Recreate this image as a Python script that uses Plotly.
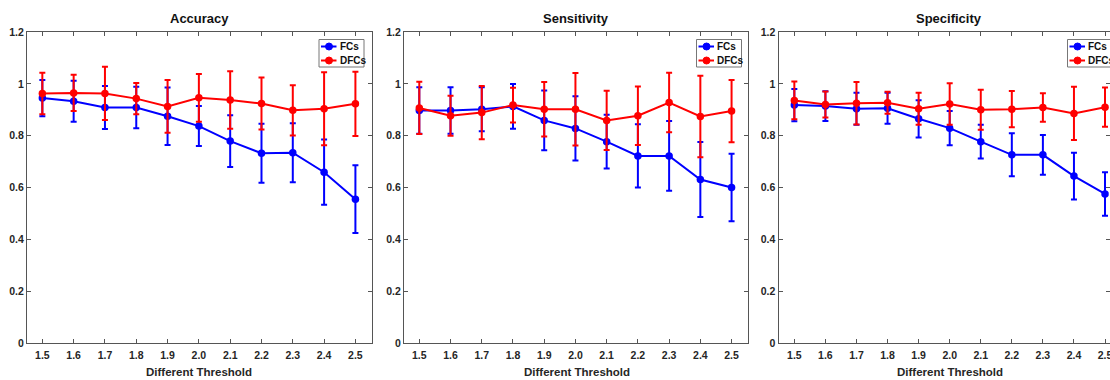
import plotly.graph_objects as go

# ---------------- data ----------------
thresholds = [1.5, 1.6, 1.7, 1.8, 1.9, 2.0, 2.1, 2.2, 2.3, 2.4, 2.5]
x_tick_labels = ["1.5", "1.6", "1.7", "1.8", "1.9", "2.0", "2.1", "2.2", "2.3", "2.4", "2.5"]
y_tick_vals = [0, 0.2, 0.4, 0.6, 0.8, 1.0, 1.2]
y_tick_labels = ["0", "0.2", "0.4", "0.6", "0.8", "1", "1.2"]
panel_titles = ["Accuracy", "Sensitivity", "Specificity"]
series_names = ["FCs", "DFCs"]

acc_fc = [0.945, 0.933, 0.909, 0.909, 0.875, 0.837, 0.779, 0.732, 0.734, 0.659, 0.555]
acc_fc_err = [0.070, 0.079, 0.083, 0.080, 0.111, 0.077, 0.100, 0.114, 0.114, 0.126, 0.131]
acc_dfc = [0.963, 0.965, 0.963, 0.943, 0.913, 0.946, 0.938, 0.924, 0.898, 0.904, 0.923]
acc_dfc_err = [0.080, 0.070, 0.103, 0.060, 0.102, 0.092, 0.111, 0.100, 0.097, 0.141, 0.124]

sen_fc = [0.897, 0.897, 0.902, 0.913, 0.859, 0.828, 0.777, 0.722, 0.722, 0.631, 0.600]
sen_fc_err = [0.090, 0.090, 0.085, 0.086, 0.115, 0.124, 0.104, 0.122, 0.135, 0.145, 0.130]
sen_dfc = [0.907, 0.877, 0.889, 0.918, 0.902, 0.902, 0.859, 0.877, 0.928, 0.874, 0.895]
sen_dfc_err = [0.101, 0.077, 0.103, 0.067, 0.105, 0.140, 0.114, 0.113, 0.115, 0.157, 0.120]

spe_fc = [0.918, 0.914, 0.904, 0.906, 0.865, 0.829, 0.777, 0.726, 0.726, 0.644, 0.575]
spe_fc_err = [0.062, 0.057, 0.062, 0.060, 0.072, 0.066, 0.065, 0.083, 0.077, 0.090, 0.084]
spe_dfc = [0.936, 0.920, 0.925, 0.927, 0.904, 0.922, 0.900, 0.902, 0.909, 0.886, 0.910]
spe_dfc_err = [0.073, 0.050, 0.082, 0.042, 0.062, 0.080, 0.077, 0.070, 0.055, 0.103, 0.076]

panels = [
    (acc_fc, acc_fc_err, acc_dfc, acc_dfc_err),
    (sen_fc, sen_fc_err, sen_dfc, sen_dfc_err),
    (spe_fc, spe_fc_err, spe_dfc, spe_dfc_err),
]
colors = ["#0000ff", "#ff0000"]

# ---------------- layout geometry (window pixels) ----------------
W, H = 1110, 380
ML, MR, MT, MB = 27, 0, 32, 380 - 343
PW, PH = W - ML - MR, H - MT - MB


def px2x(px):
    return (px - ML) / PW


def px2y(py):
    return (H - MB - py) / PH


dom_px = [(27, 372), (404, 747.5), (778.5, 1110)]
x_ranges = [[1.451, 2.553], [1.451, 2.551], [1.449, 2.516]]
title_cx = [199.5, 576, 949]
xtitle_cx = [199, 577, 950]
legend_left = [319, 696.5, 1067.5]

FONT = "Liberation Sans, Arial, Helvetica, sans-serif"
AXC = "#555555"
TXT = "#262626"

fig = go.Figure()

for i, (fc, fce, dfc, dfce) in enumerate(panels):
    xa = "x" if i == 0 else f"x{i+1}"
    ya = "y" if i == 0 else f"y{i+1}"
    for name, vals, errs, col in [
        (series_names[0], fc, fce, colors[0]),
        (series_names[1], dfc, dfce, colors[1]),
    ]:
        fig.add_trace(go.Scatter(
            x=thresholds, y=vals, name=name, mode="lines+markers",
            xaxis=xa, yaxis=ya, showlegend=False,
            line=dict(color=col, width=2),
            marker=dict(color=col, size=7.5, symbol="circle"),
            error_y=dict(type="data", array=errs, visible=True,
                         color=col, thickness=2, width=3),
            cliponaxis=False,
        ))

    axis_common = dict(
        showline=True, linecolor=AXC, linewidth=1, mirror="ticks",
        ticks="inside", ticklen=4, tickcolor=AXC, tickwidth=1,
        showgrid=False, zeroline=False,
        tickfont=dict(family=FONT, size=10.5, color=TXT, weight="bold"),
    )
    xkey = "xaxis" if i == 0 else f"xaxis{i+1}"
    ykey = "yaxis" if i == 0 else f"yaxis{i+1}"
    fig.update_layout({
        xkey: dict(axis_common, domain=[px2x(dom_px[i][0]), px2x(dom_px[i][1])],
                   range=x_ranges[i], tickvals=thresholds, ticktext=x_tick_labels,
                   anchor=ya, ticklabelstandoff=2, ticklabeloverflow="allow"),
        ykey: dict(axis_common, domain=[0, 1], range=[0, 1.2],
                   tickvals=y_tick_vals, ticktext=y_tick_labels, anchor=xa,
                   ticklabelstandoff=0),
    })

    # panel title
    fig.add_annotation(text=panel_titles[i], xref="paper", yref="paper",
                       x=px2x(title_cx[i]), y=px2y(19), xanchor="center", yanchor="middle",
                       showarrow=False,
                       font=dict(family=FONT, size=13, color="#111111", weight="bold"))
    # x-axis title
    fig.add_annotation(text="Different Threshold", xref="paper", yref="paper",
                       x=px2x(xtitle_cx[i]), y=px2y(372), xanchor="center", yanchor="middle",
                       showarrow=False,
                       font=dict(family=FONT, size=11.5, color=TXT, weight="bold"))

    # legend (drawn box)
    L = legend_left[i]
    fig.add_shape(type="rect", xref="paper", yref="paper",
                  x0=px2x(L), x1=px2x(L + 45), y0=px2y(39.5), y1=px2y(67),
                  line=dict(color="#777777", width=1), fillcolor="white", layer="above")
    for row_y, name, col in [(46.5, series_names[0], colors[0]), (60.5, series_names[1], colors[1])]:
        fig.add_shape(type="line", xref="paper", yref="paper",
                      x0=px2x(L + 2), x1=px2x(L + 17.5), y0=px2y(row_y), y1=px2y(row_y),
                      line=dict(color=col, width=2), layer="above")
        fig.add_shape(type="circle", xref="paper", yref="paper",
                      xsizemode="pixel", ysizemode="pixel",
                      xanchor=px2x(L + 10), yanchor=px2y(row_y),
                      x0=-3.5, x1=3.5, y0=-3.5, y1=3.5,
                      line=dict(color=col, width=1), fillcolor=col, layer="above")
        fig.add_annotation(text=name, xref="paper", yref="paper",
                           x=px2x(L + 18.5), y=px2y(row_y), xanchor="left", yanchor="middle",
                           showarrow=False,
                           font=dict(family=FONT, size=10, color="#111111", weight="bold"))

fig.update_layout(
    width=W, height=H,
    margin=dict(l=ML, r=MR, t=MT, b=MB, autoexpand=False),
    paper_bgcolor="white", plot_bgcolor="white",
    showlegend=False, hovermode=False,
)

# remove the page's default 8px body margin so the figure fills the window
fig.write_html(
    "out.html",
    config={"displayModeBar": False, "staticPlot": True},
    post_script="document.body.style.margin='0';document.body.style.overflow='hidden';",
)
